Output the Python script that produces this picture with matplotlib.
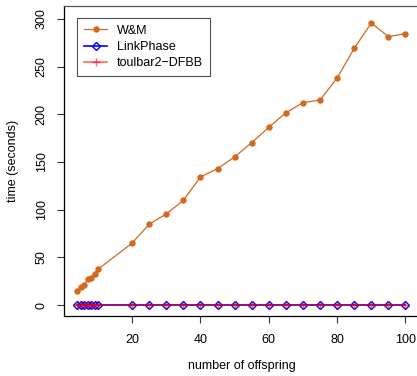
import matplotlib
matplotlib.use("Agg")
import matplotlib.pyplot as plt

plt.rcParams['font.family'] = ['Liberation Sans', 'DejaVu Sans']

# number of offspring
offspring = [4, 5, 6, 7, 8, 9, 10, 20, 25, 30, 35, 40, 45, 50, 55,
             60, 65, 70, 75, 80, 85, 90, 95, 100]
# running times (seconds)
wm_time = [15.0, 18.9, 21.0, 27.0, 28.6, 32.8, 37.4, 65.0, 84.7, 95.5, 109.8,
           134.3, 143.0, 155.3, 170.3, 186.4, 201.7, 212.2, 215.0, 238.1,
           269.2, 295.8, 281.5, 284.6]
linkphase_time = [0.0] * len(offspring)
toulbar2_time = [0.0] * len(offspring)

x_ticks = [20, 40, 60, 80, 100]
y_ticks = [0, 50, 100, 150, 200, 250, 300]

fig = plt.figure(figsize=(4.17, 3.76), dpi=100, facecolor='w')
ax = fig.add_axes([64.3 / 417, 1 - 316 / 376, 354.3 / 417, 310 / 376])

ax.plot(offspring, wm_time, '-o', color='#D2691E', lw=0.9, ms=3.6,
        label='W&M')
ax.plot(offspring, linkphase_time, '-D', color='blue', lw=1.2, ms=4.5,
        mfc='none', mew=1.0, label='LinkPhase')
ax.plot(offspring, toulbar2_time, '-+', color='red', lw=1.2, ms=6,
        mew=1.0, alpha=0.6, label='toulbar2\u2212DFBB')

ax.set_xlim(0.16, 103.84)
ax.set_ylim(-11.5, 313.6)
ax.set_xticks(x_ticks)
ax.set_yticks(y_ticks)
ax.set_yticklabels([str(v) for v in y_ticks], rotation=90, va='center')
ax.tick_params(direction='out', length=5, width=0.8, labelsize=9,
               color='#333333')
ax.tick_params(axis='x', pad=8)
ax.tick_params(axis='y', pad=7)
ax.set_xlabel('number of offspring', fontsize=9, labelpad=10)
ax.set_ylabel('time (seconds)', fontsize=9, labelpad=12)
for s in ax.spines.values():
    s.set_linewidth(0.9)
ax.spines['top'].set_color('#555555')

leg = ax.legend(loc='upper left', bbox_to_anchor=(0.037, 0.962), fontsize=9,
                frameon=True, fancybox=False, edgecolor='#222222',
                borderpad=0.55, handlelength=1.8, handletextpad=0.8,
                labelspacing=0.35, borderaxespad=0)
leg.get_frame().set_linewidth(0.8)

fig.savefig('out.png', dpi=100)
